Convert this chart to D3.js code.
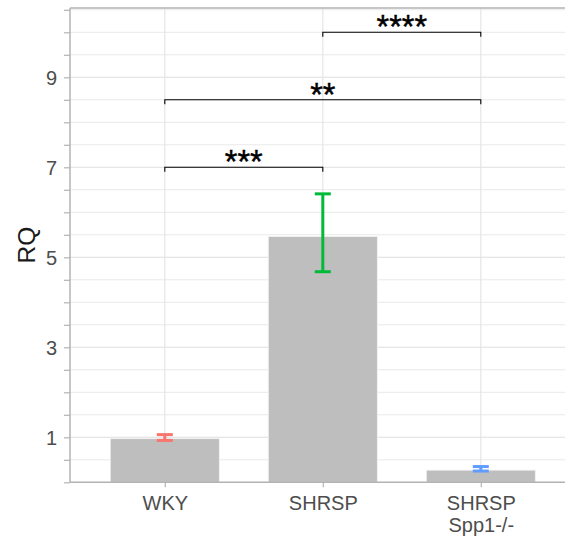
<!DOCTYPE html>
<html>
<head>
<meta charset="utf-8">
<script src="https://cdn.jsdelivr.net/npm/d3@7"></script>
<style>
  html, body { margin: 0; padding: 0; background: #fff; }
  svg { display: block; }
</style>
</head>
<body>
<div id="chart"></div>
<script>
// Relative quantification per strain
const groups = ["WKY", "SHRSP", "SHRSP\nSpp1-/-"];
const rqMean = [0.97, 5.46, 0.27];
const rqLow  = [0.93, 4.68, 0.25];
const rqHigh = [1.06, 6.41, 0.35];
const barColors = ["#F8766D", "#00BA38", "#619CFF"];

// Significance comparisons: [from group index, to group index, bracket height, label]
const sigFrom   = [0, 0, 1];
const sigTo     = [1, 2, 2];
const sigHeight = [7.0, 8.5, 10.0];
const sigLabel  = ["***", "**", "****"];

const yTickLabels = [1, 3, 5, 7, 9];
const yGridStep = 0.5;

const W = 565, H = 537;
const padL = 70, padR = 575.6, padT = 8, padB = 482.3;

const svg = d3.select("#chart").append("svg")
  .attr("width", W).attr("height", H);

const x = d3.scalePoint().domain(groups).range([padL, padR]).padding(0.6);
const y = d3.scaleLinear().domain([0, 10.54]).range([padB, padT]);
const step = x.step();
const barW = step * 0.69;

const font = "'Liberation Sans', Arial, sans-serif";

// panel grid
const gridVals = d3.range(0, 10.5 + 1e-9, yGridStep);
const grid = svg.append("g");
grid.selectAll("line.h").data(gridVals).join("line")
  .attr("x1", padL).attr("x2", W)
  .attr("y1", d => y(d)).attr("y2", d => y(d))
  .attr("stroke", d => yTickLabels.includes(d) ? "#dedede" : "#e6e6e6")
  .attr("stroke-width", d => yTickLabels.includes(d) ? 1.1 : 0.9);
grid.selectAll("line.v").data(groups).join("line")
  .attr("x1", d => x(d)).attr("x2", d => x(d))
  .attr("y1", padT).attr("y2", padB)
  .attr("stroke", "#e3e3e3").attr("stroke-width", 1.1);

// bars
svg.append("g").selectAll("rect").data(groups).join("rect")
  .attr("x", d => x(d) - barW / 2)
  .attr("width", barW)
  .attr("y", (d, i) => y(rqMean[i]))
  .attr("height", (d, i) => y(0) - y(rqMean[i]))
  .attr("fill", "#bebebe")
  .attr("stroke", "#f2f2f2").attr("stroke-width", 0.8);

// error bars
const capW = 16;
const eb = svg.append("g").selectAll("g").data(groups).join("g")
  .attr("stroke", (d, i) => barColors[i])
  .attr("stroke-width", 3);
eb.append("line")
  .attr("x1", d => x(d)).attr("x2", d => x(d))
  .attr("y1", (d, i) => y(rqLow[i])).attr("y2", (d, i) => y(rqHigh[i]));
eb.append("line")
  .attr("x1", d => x(d) - capW / 2).attr("x2", d => x(d) + capW / 2)
  .attr("y1", (d, i) => y(rqLow[i])).attr("y2", (d, i) => y(rqLow[i]));
eb.append("line")
  .attr("x1", d => x(d) - capW / 2).attr("x2", d => x(d) + capW / 2)
  .attr("y1", (d, i) => y(rqHigh[i])).attr("y2", (d, i) => y(rqHigh[i]));

// panel border (top) and axes
svg.append("line").attr("x1", padL).attr("x2", W).attr("y1", padT).attr("y2", padT)
  .attr("stroke", "#b3b3b3").attr("stroke-width", 1.3);

const yAxis = svg.append("g").attr("transform", `translate(${padL},0)`)
  .call(d3.axisLeft(y).tickValues(gridVals).tickSize(6)
    .tickFormat(d => yTickLabels.includes(d) ? d : ""));
yAxis.select(".domain").attr("stroke", "#b3b3b3").attr("stroke-width", 1.5)
  .attr("d", `M0,${padT}V${padB}`);
yAxis.selectAll(".tick line").attr("stroke", "#b3b3b3").attr("stroke-width", 1.2);
yAxis.selectAll(".tick text")
  .attr("x", -13).attr("dy", "0.36em")
  .attr("fill", "#4d4d4d").style("font-size", "20px").style("font-family", font);

const xAxis = svg.append("g").attr("transform", `translate(0,${padB})`)
  .call(d3.axisBottom(x).tickSize(5).tickFormat(""));
xAxis.select(".domain").attr("stroke", "#b3b3b3").attr("stroke-width", 1.5)
  .attr("d", `M${padL},0H${W}`);
xAxis.selectAll(".tick line").attr("stroke", "#b3b3b3").attr("stroke-width", 1.2);
xAxis.selectAll(".tick").each(function(d) {
  const t = d3.select(this).append("text")
    .attr("text-anchor", "middle")
    .attr("fill", "#4d4d4d").style("font-size", "20px").style("font-family", font);
  d.split("\n").forEach((line, k) => {
    t.append("tspan").attr("x", 0).attr("y", 28 + k * 22).text(line);
  });
});

// axis title
svg.append("text")
  .attr("transform", `translate(35,${(padT + padB) / 2}) rotate(-90)`)
  .attr("text-anchor", "middle")
  .attr("fill", "#1a1a1a").style("font-size", "24.5px").style("font-family", font)
  .text("RQ");

// significance brackets
const tip = 0.1;
const sig = svg.append("g");
sigLabel.forEach((lab, i) => {
  const x1 = x(groups[sigFrom[i]]), x2 = x(groups[sigTo[i]]);
  const yy = y(sigHeight[i]);
  sig.append("path")
    .attr("d", `M${x1},${y(sigHeight[i] - tip)}V${yy}H${x2}V${y(sigHeight[i] - tip)}`)
    .attr("fill", "none").attr("stroke", "#000").attr("stroke-width", 1.1);
  sig.append("text")
    .attr("x", (x1 + x2) / 2).attr("y", yy + 6)
    .attr("text-anchor", "middle")
    .attr("fill", "#000").style("font-size", "32.5px").style("font-family", font)
    .style("stroke", "#000").style("stroke-width", 0.4)
    .text(lab);
});
</script>
</body>
</html>
